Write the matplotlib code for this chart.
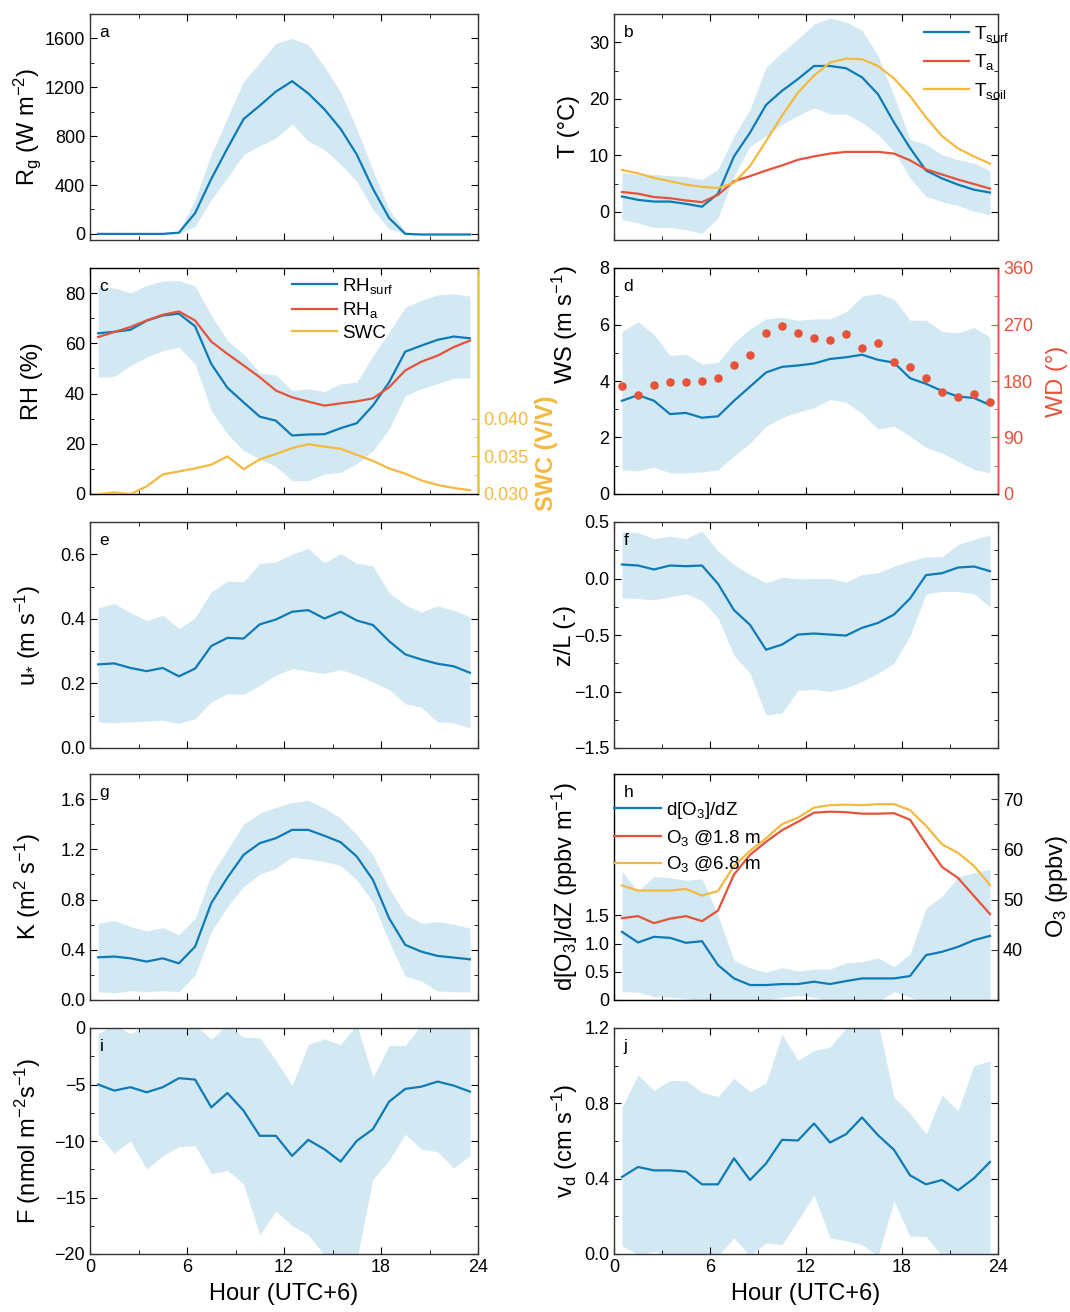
import numpy as np
import matplotlib
matplotlib.use('Agg')
import matplotlib.pyplot as plt
from matplotlib.ticker import MultipleLocator, FixedLocator, FormatStrFormatter

plt.rcParams['font.family'] = ['Liberation Sans', 'DejaVu Sans']
plt.rcParams['mathtext.default'] = 'regular'

hours = np.arange(0.5, 24, 1)

# a: global radiation
rg_mean = [0, 0, 0, 0, 0, 10, 170, 450, 700, 940, 1050, 1165, 1250, 1150, 1020, 860, 650, 370, 130, 0, -5, -5, -5, -5]
rg_hi = [0, 0, 0, 0, 0, 20, 280, 650, 950, 1250, 1400, 1560, 1600, 1550, 1370, 1160, 860, 520, 200, 20, 0, 0, 0, 0]
rg_lo = [0, 0, 0, 0, 0, 0, 60, 280, 460, 650, 720, 785, 900, 760, 690, 570, 430, 200, 40, 0, 0, 0, 0, 0]

# b: temperatures
t_surf = [2.7, 2.1, 1.8, 1.8, 1.4, 0.9, 3.2, 9.8, 14.0, 18.9, 21.4, 23.5, 25.8, 25.8, 25.4, 23.8, 20.8, 15.8, 11.3, 7.3, 5.9, 4.8, 3.9, 3.4]
t_surf_hi = [7.0, 6.6, 6.6, 6.4, 6.2, 5.7, 7.5, 13.4, 18.1, 25.5, 28.2, 30.6, 33.2, 34.3, 33.6, 32.1, 27.6, 20.5, 12.8, 11.9, 10.1, 9.2, 8.6, 7.3]
t_surf_lo = [-1.4, -2.0, -2.8, -2.8, -3.2, -3.8, -1.1, 6.3, 11.6, 13.4, 15.5, 17.0, 18.4, 17.3, 17.3, 15.8, 13.7, 10.7, 6.0, 2.7, 1.8, 1.1, 0.1, -0.5]
t_a = [3.5, 3.2, 2.6, 2.4, 2.0, 1.7, 3.0, 5.4, 6.3, 7.3, 8.2, 9.2, 9.8, 10.3, 10.6, 10.6, 10.6, 10.3, 9.1, 7.5, 6.6, 5.7, 4.9, 4.1]
t_soil = [7.4, 6.8, 6.0, 5.4, 4.8, 4.4, 4.2, 5.1, 8.1, 12.5, 17.0, 21.1, 24.1, 26.4, 27.1, 27.0, 25.8, 23.6, 20.5, 16.7, 13.4, 11.2, 9.8, 8.5]

# c: humidity and soil water
rh_surf = [64.0, 64.6, 65.4, 69.0, 71.1, 71.8, 66.8, 51.8, 42.3, 36.5, 30.8, 29.2, 23.3, 23.7, 23.8, 26.2, 28.2, 35.2, 44.5, 56.7, 59.1, 61.4, 62.7, 62.0]
rh_hi = [82.4, 82.1, 80.0, 83.1, 84.8, 85.0, 82.8, 71.1, 61.1, 55.8, 48.2, 47.4, 41.2, 41.9, 40.8, 43.9, 44.5, 55.1, 64.4, 74.4, 77.1, 79.3, 79.7, 78.8]
rh_lo = [46.5, 46.8, 51.2, 54.5, 57.1, 58.5, 51.8, 33.2, 23.9, 17.3, 14.0, 11.0, 5.3, 5.3, 8.0, 8.6, 12.0, 17.3, 25.9, 39.2, 41.9, 43.9, 46.1, 46.1]
rh_a = [62.5, 64.5, 66.5, 69.1, 71.4, 72.7, 69.1, 60.7, 55.8, 51.2, 46.5, 41.2, 38.5, 36.8, 35.2, 36.1, 36.9, 38.1, 42.5, 49.2, 52.7, 55.1, 58.5, 61.1]
swc = [0.0300, 0.0302, 0.0300, 0.0310, 0.0326, 0.0330, 0.0334, 0.0339, 0.0350, 0.0333, 0.0346, 0.0353, 0.0361, 0.0366, 0.0363, 0.0360, 0.0352, 0.0344, 0.0334, 0.0327, 0.0318, 0.0312, 0.0308, 0.0305]

# d: wind
ws_mean = [3.3, 3.5, 3.3, 2.83, 2.87, 2.7, 2.75, 3.3, 3.8, 4.3, 4.5, 4.55, 4.62, 4.78, 4.84, 4.93, 4.75, 4.65, 4.1, 3.9, 3.65, 3.45, 3.4, 3.15]
ws_hi = [5.75, 6.1, 5.65, 4.9, 4.95, 4.6, 4.65, 5.35, 5.85, 6.2, 6.25, 6.15, 6.2, 6.2, 6.45, 7.0, 7.1, 6.9, 6.15, 6.15, 5.75, 5.7, 5.9, 5.55]
ws_lo = [0.85, 0.82, 0.95, 0.75, 0.75, 0.78, 0.85, 1.35, 1.8, 2.4, 2.7, 2.9, 3.05, 3.35, 3.25, 2.85, 2.3, 2.4, 2.05, 1.65, 1.45, 1.15, 0.87, 0.75]
wd = [172, 158, 173, 178, 178, 180, 185, 206, 222, 257, 268, 256, 248, 245, 255, 232, 240, 210, 202, 184, 163, 155, 159, 147]

# e: friction velocity
ustar = [0.259, 0.262, 0.248, 0.238, 0.248, 0.222, 0.246, 0.316, 0.341, 0.339, 0.383, 0.398, 0.422, 0.427, 0.401, 0.422, 0.395, 0.381, 0.331, 0.290, 0.274, 0.261, 0.253, 0.233]
ustar_hi = [0.434, 0.448, 0.419, 0.395, 0.411, 0.370, 0.403, 0.484, 0.517, 0.515, 0.572, 0.576, 0.600, 0.618, 0.574, 0.602, 0.572, 0.564, 0.481, 0.443, 0.421, 0.440, 0.427, 0.406]
ustar_lo = [0.081, 0.078, 0.081, 0.083, 0.086, 0.076, 0.091, 0.143, 0.168, 0.166, 0.194, 0.226, 0.246, 0.238, 0.231, 0.243, 0.226, 0.205, 0.181, 0.137, 0.126, 0.081, 0.078, 0.062]

# f: stability
zl = [0.124, 0.115, 0.08, 0.115, 0.109, 0.115, -0.047, -0.28, -0.41, -0.63, -0.585, -0.496, -0.487, -0.496, -0.505, -0.437, -0.393, -0.319, -0.177, 0.03, 0.047, 0.097, 0.106, 0.065]
zl_hi = [0.414, 0.405, 0.352, 0.375, 0.352, 0.42, 0.243, 0.124, 0.035, -0.038, 0.012, -0.003, 0.0, 0.0, -0.032, 0.035, 0.05, 0.109, 0.154, 0.192, 0.192, 0.301, 0.346, 0.385]
zl_lo = [-0.171, -0.177, -0.189, -0.162, -0.136, -0.195, -0.349, -0.68, -0.837, -1.21, -1.19, -0.99, -0.98, -0.999, -0.97, -0.91, -0.84, -0.75, -0.506, -0.136, -0.115, -0.115, -0.136, -0.25]

# g: eddy diffusivity
k_mean = [0.34, 0.346, 0.332, 0.306, 0.332, 0.292, 0.425, 0.771, 0.975, 1.156, 1.249, 1.289, 1.355, 1.355, 1.308, 1.257, 1.143, 0.957, 0.651, 0.439, 0.385, 0.351, 0.338, 0.324]
k_hi = [0.611, 0.633, 0.585, 0.55, 0.577, 0.518, 0.651, 0.997, 1.196, 1.401, 1.488, 1.534, 1.573, 1.59, 1.528, 1.449, 1.316, 1.156, 0.89, 0.683, 0.611, 0.625, 0.603, 0.571]
k_lo = [0.066, 0.058, 0.074, 0.066, 0.074, 0.066, 0.199, 0.545, 0.744, 0.904, 1.002, 1.05, 1.138, 1.122, 1.103, 1.071, 0.957, 0.779, 0.465, 0.191, 0.151, 0.072, 0.066, 0.066]

# h: ozone gradient and concentrations
do3 = [1.206, 1.018, 1.118, 1.1, 1.012, 1.041, 0.618, 0.382, 0.265, 0.265, 0.282, 0.282, 0.324, 0.282, 0.335, 0.382, 0.382, 0.382, 0.424, 0.794, 0.853, 0.941, 1.059, 1.135]
do3_hi = [2.276, 1.924, 2.188, 2.165, 2.118, 2.147, 1.5, 0.706, 0.571, 0.488, 0.571, 0.512, 0.547, 0.547, 0.659, 0.676, 0.747, 0.588, 0.812, 1.629, 1.835, 2.176, 2.253, 2.312]
do3_lo = [0.15, 0.14, 0.06, 0.05, 0.03, -0.02, -0.05, -0.03, -0.02, 0.0, 0.05, 0.08, 0.05, -0.02, 0.0, 0.02, -0.03, 0.15, 0.05, -0.05, -0.05, -0.05, -0.05, -0.05]
o3_18 = [46.3, 46.7, 45.3, 46.2, 46.7, 45.7, 47.8, 55.0, 58.9, 61.5, 63.8, 65.5, 67.3, 67.5, 67.4, 67.1, 67.1, 67.2, 65.9, 61.1, 56.5, 54.3, 50.7, 47.1]
o3_68 = [52.8, 51.8, 51.8, 51.8, 52.1, 50.8, 51.7, 56.7, 59.7, 62.2, 65.0, 66.3, 68.3, 68.8, 68.9, 68.8, 69.0, 69.0, 67.8, 64.7, 61.0, 59.3, 56.7, 52.9]

# i: ozone flux
flux = [-5.0, -5.54, -5.24, -5.69, -5.24, -4.44, -4.56, -7.02, -5.75, -7.32, -9.54, -9.54, -11.32, -9.9, -10.73, -11.82, -9.99, -8.95, -6.52, -5.39, -5.19, -4.74, -5.1, -5.63]
flux_hi = [-0.5, 0.3, -0.5, 0.3, 0.3, 0.3, 0.3, -1.0, 0.3, -0.8, -0.86, -2.87, -5.1, -1.48, -0.95, -1.48, 0.3, -4.36, -1.54, -1.54, 0.3, 0.3, 0.3, 0.3]
flux_lo = [-9.39, -11.08, -9.98, -12.5, -11.3, -10.5, -10.4, -12.9, -12.6, -13.8, -18.3, -16.2, -17.5, -18.3, -20.1, -20.5, -20.5, -13.4, -11.7, -9.4, -10.7, -10.96, -12.4, -11.3]

# j: deposition velocity
vd = [0.409, 0.462, 0.444, 0.444, 0.437, 0.37, 0.37, 0.508, 0.393, 0.48, 0.606, 0.603, 0.693, 0.592, 0.636, 0.725, 0.631, 0.553, 0.418, 0.37, 0.393, 0.338, 0.402, 0.489]
vd_hi = [0.779, 0.951, 0.868, 0.921, 0.921, 0.859, 0.836, 0.933, 0.862, 0.907, 1.166, 1.028, 1.081, 1.099, 1.2, 1.23, 1.23, 0.832, 0.747, 0.636, 0.844, 0.761, 1.001, 1.024]
vd_lo = [0.044, -0.004, 0.014, -0.01, -0.01, -0.01, -0.01, 0.085, -0.01, 0.059, 0.05, 0.18, 0.313, 0.085, 0.071, 0.05, -0.01, 0.281, 0.094, 0.094, -0.01, -0.01, -0.01, -0.01]

BLUE = '#0e7bb6'
SHADE = '#d2e8f3'
RED = '#e5533a'
ORANGE = '#f4b940'
W, H = 1070, 1312
TICK_FS = 13
LAB_FS = 17
LEG_FS = 13.5

fig = plt.figure(figsize=(W / 100, H / 100), dpi=100)

col_x = [(90, 388), (614, 384)]
row_top = [14, 268, 522, 774, 1028]
row_h = 226
LX = [-0.12, -0.089]


def make_ax(r, c):
    x0, w = col_x[c]
    y0 = row_top[r]
    return fig.add_axes([x0 / W, 1 - (y0 + row_h) / H, w / W, row_h / H])


def style(ax, c, letter, ylabel, ylim, major, minor, bottom=False, right=True, lx=None, ly=0.5):
    ax.set_xlim(0, 24)
    ax.set_ylim(*ylim)
    ax.xaxis.set_major_locator(MultipleLocator(6))
    ax.xaxis.set_minor_locator(MultipleLocator(3))
    ax.yaxis.set_major_locator(MultipleLocator(major))
    if minor:
        ax.yaxis.set_minor_locator(MultipleLocator(minor))
    ax.tick_params(which='both', direction='in', top=True, right=right, labelsize=TICK_FS)
    ax.tick_params(which='major', length=5)
    ax.tick_params(which='minor', length=3)
    for s in ax.spines.values():
        s.set_color('#333333')
        s.set_linewidth(1.0)
    if bottom:
        ax.set_xlabel('Hour (UTC+6)', fontsize=LAB_FS, labelpad=5)
    else:
        ax.tick_params(labelbottom=False)
    ax.set_ylabel(ylabel, fontsize=LAB_FS)
    ax.yaxis.set_label_coords(LX[c] if lx is None else lx, ly)
    ax.text(0.025, 0.95, letter, transform=ax.transAxes, fontsize=12.5, va='top', ha='left')


def twin_style(tw, color):
    tw.tick_params(which='both', direction='in', colors=color, labelsize=TICK_FS)
    tw.tick_params(which='major', length=5)
    tw.tick_params(which='minor', length=3)
    tw.spines['right'].set_color(color)
    tw.spines['right'].set_linewidth(1.0)


def band(ax, lo, hi, mean):
    ax.fill_between(hours, lo, hi, color=SHADE, lw=0)
    ax.plot(hours, mean, color=BLUE, lw=1.6)


# a
ax = make_ax(0, 0)
band(ax, rg_lo, rg_hi, rg_mean)
style(ax, 0, 'a', 'R$_g$ (W m$^{-2}$)', (-50, 1800), 400, 200)

# b
ax = make_ax(0, 1)
ax.fill_between(hours, t_surf_lo, t_surf_hi, color=SHADE, lw=0)
ax.plot(hours, t_surf, color=BLUE, lw=1.6, label='T$_{surf}$')
ax.plot(hours, t_a, color=RED, lw=1.6, label='T$_{a}$')
ax.plot(hours, t_soil, color=ORANGE, lw=1.6, label='T$_{soil}$')
style(ax, 1, 'b', 'T (°C)', (-5, 35), 10, 5)
ax.legend(loc='upper right', bbox_to_anchor=(1.05, 0.99), frameon=False, fontsize=LEG_FS,
          handlelength=2.4, labelspacing=0.45, handletextpad=0.3, borderaxespad=0)

# c
ax = make_ax(1, 0)
ax.fill_between(hours, rh_lo, rh_hi, color=SHADE, lw=0)
l1, = ax.plot(hours, rh_surf, color=BLUE, lw=1.6, label='RH$_{surf}$')
l2, = ax.plot(hours, rh_a, color=RED, lw=1.6, label='RH$_{a}$')
style(ax, 0, 'c', 'RH (%)', (0, 90), 20, 10, right=False)
tw = ax.twinx()
l3, = tw.plot(hours, swc, color=ORANGE, lw=1.6, label='SWC')
tw.set_ylim(0.030, 0.060)
tw.yaxis.set_major_locator(FixedLocator([0.030, 0.035, 0.040]))
tw.yaxis.set_minor_locator(FixedLocator([0.0325, 0.0375]))
tw.yaxis.set_major_formatter(FormatStrFormatter('%.3f'))
twin_style(tw, ORANGE)
tw.set_ylabel('SWC (V/V)', color=ORANGE, fontsize=LAB_FS, fontweight='bold')
tw.yaxis.set_label_coords(1.147, 0.18)
tw.legend(handles=[l1, l2, l3], loc='upper left', bbox_to_anchor=(0.5, 1.0), frameon=False,
          fontsize=LEG_FS, handlelength=2.4, labelspacing=0.25, handletextpad=0.3, borderaxespad=0)

# d
ax = make_ax(1, 1)
band(ax, ws_lo, ws_hi, ws_mean)
style(ax, 1, 'd', 'WS (m s$^{-1}$)', (0, 8), 2, 1, right=False, ly=0.75)
tw = ax.twinx()
tw.scatter(hours, wd, color=RED, s=38, zorder=3, clip_on=False, lw=0)
tw.set_ylim(0, 360)
tw.yaxis.set_major_locator(MultipleLocator(90))
tw.yaxis.set_minor_locator(MultipleLocator(45))
twin_style(tw, RED)
tw.set_ylabel('WD (°)', color=RED, fontsize=LAB_FS)
tw.yaxis.set_label_coords(1.125, 0.5)

# e
ax = make_ax(2, 0)
band(ax, ustar_lo, ustar_hi, ustar)
style(ax, 0, 'e', 'u$_{*}$ (m s$^{-1}$)', (0, 0.7), 0.2, 0.1)

# f
ax = make_ax(2, 1)
band(ax, zl_lo, zl_hi, zl)
style(ax, 1, 'f', 'z/L (-)', (-1.5, 0.5), 0.5, 0.25, lx=-0.1)

# g
ax = make_ax(3, 0)
band(ax, k_lo, k_hi, k_mean)
style(ax, 0, 'g', 'K (m$^2$ s$^{-1}$)', (0, 1.8), 0.4, 0.2)

# h
ax = make_ax(3, 1)
ax.fill_between(hours, do3_lo, do3_hi, color=SHADE, lw=0)
h1, = ax.plot(hours, do3, color=BLUE, lw=1.6, label='d[O$_3$]/dZ')
style(ax, 1, 'h', 'd[O$_3$]/dZ (ppbv m$^{-1}$)', (0, 4), 0.5, None, right=False)
ax.yaxis.set_major_locator(FixedLocator([0, 0.5, 1.0, 1.5]))
ax.set_yticklabels(['0', '0.5', '1.0', '1.5'])
tw = ax.twinx()
h2, = tw.plot(hours, o3_18, color=RED, lw=1.6, label='O$_3$ @1.8 m')
h3, = tw.plot(hours, o3_68, color=ORANGE, lw=1.6, label='O$_3$ @6.8 m')
tw.set_ylim(30, 75)
tw.yaxis.set_major_locator(FixedLocator([40, 50, 60, 70]))
tw.yaxis.set_minor_locator(FixedLocator([45, 55, 65]))
twin_style(tw, '#333333')
tw.tick_params(labelcolor='black')
tw.set_ylabel('O$_3$ (ppbv)', fontsize=LAB_FS)
tw.yaxis.set_label_coords(1.12, 0.5)
tw.legend(handles=[h1, h2, h3], loc='upper left', bbox_to_anchor=(-0.02, 0.918), frameon=False,
          fontsize=LEG_FS, handlelength=2.5, labelspacing=0.35, handletextpad=0.3, borderaxespad=0)

# i
ax = make_ax(4, 0)
band(ax, flux_lo, flux_hi, flux)
style(ax, 0, 'i', 'F (nmol m$^{-2}$s$^{-1}$)', (-20, 0), 5, 2.5, bottom=True)

# j
ax = make_ax(4, 1)
band(ax, vd_lo, vd_hi, vd)
style(ax, 1, 'j', 'v$_d$ (cm s$^{-1}$)', (0, 1.2), 0.4, 0.2, bottom=True)

fig.savefig('out.png', dpi=100)
